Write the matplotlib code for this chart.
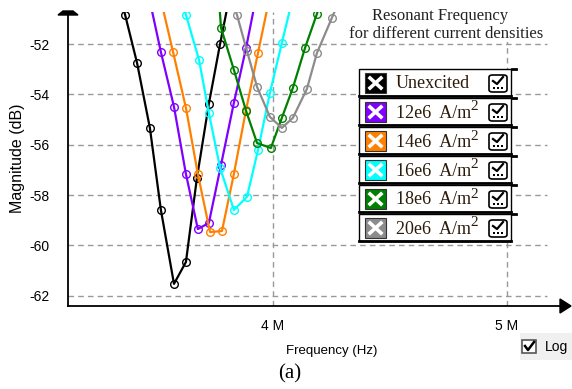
import matplotlib.pyplot as plt
from matplotlib.patches import Rectangle, FancyBboxPatch, Polygon
from matplotlib.lines import Line2D

W, H = 572, 389

# frequency (MHz) and magnitude (dB)
f_unexc = [3.316, 3.368, 3.419, 3.474, 3.521, 3.577, 3.628, 3.675, 3.726, 3.774, 3.825]
m_unexc = [-49.0, -50.83, -52.74, -55.33, -58.59, -61.53, -60.66, -57.32, -54.37, -51.99, -49.6]

f_12 = [3.470, 3.521, 3.577, 3.628, 3.679, 3.726, 3.778, 3.833, 3.885, 3.936]
m_12 = [-50.12, -52.31, -54.49, -57.16, -59.35, -59.11, -56.80, -54.33, -52.15, -49.76]

f_14 = [3.521, 3.573, 3.628, 3.679, 3.731, 3.782, 3.833, 3.885, 3.936, 3.987]
m_14 = [-50.24, -52.31, -54.53, -57.16, -59.47, -59.43, -57.16, -54.61, -52.35, -50.08]

f_16 = [3.577, 3.628, 3.684, 3.726, 3.774, 3.833, 3.889, 3.936, 3.987, 4.038, 4.090]
m_16 = [-49.04, -50.83, -52.62, -54.73, -56.92, -58.59, -58.07, -56.21, -53.94, -51.95, -49.96]

f_18 = [3.765, 3.778, 3.833, 3.885, 3.932, 3.991, 4.038, 4.085, 4.137, 4.188, 4.239]
m_18 = [-49.68, -51.35, -53.02, -54.65, -55.93, -56.13, -54.93, -53.74, -52.15, -50.79, -49.2]

f_20 = [3.795, 3.846, 3.889, 3.932, 3.987, 4.038, 4.085, 4.145, 4.188, 4.252, 4.303]
m_20 = [-49.24, -50.83, -52.27, -53.70, -54.89, -55.33, -54.93, -53.78, -52.35, -50.95, -49.84]

labels = ['Unexcited', '12e6  A/m', '14e6  A/m', '16e6  A/m', '18e6  A/m', '20e6  A/m']
colors = ['#000000', '#8000ff', '#ff8000', '#00ffff', '#008000', '#8c8c8c']
freqs = [f_unexc, f_12, f_14, f_16, f_18, f_20]
mags = [m_unexc, m_12, m_14, m_16, m_18, m_20]

y_ticks = [-52, -54, -56, -58, -60, -62]
x_ticks = [4, 5]
x_tick_labels = ['4 M', '5 M']


def P(x, y):
    # pixel position (from top-left) to figure fraction
    return (x / W, 1 - y / H)


fig = plt.figure(figsize=(W / 100, H / 100), dpi=100)
ax = fig.add_axes([68 / W, 1 - 306 / H, 500 / W, 294 / H])
x0, x1 = 3.124, 5.261
y0, y1 = -62.41, -50.72
ax.set_xlim(x0, x1)
ax.set_ylim(y0, y1)

ax.hlines(y_ticks, x0, 5.17, colors='#999999', linestyles=(0, (4, 3)), lw=1, zorder=1)
ax.vlines(x_ticks, y0, y1, colors='#999999', linestyles=(0, (4, 3)), lw=1, zorder=1)

for f, m, c in zip(freqs, mags, colors):
    ax.plot(f, m, color=c, lw=1.6, marker='o', ms=5.5, mfc='none', mec=c, mew=1.0, zorder=3)

for s in ['top', 'right']:
    ax.spines[s].set_visible(False)
for s in ['left', 'bottom']:
    ax.spines[s].set_linewidth(1.3)

ax.set_yticks(y_ticks)
ax.set_yticklabels([str(v) for v in y_ticks], fontsize=10, family='Liberation Sans')
ax.set_xticks(x_ticks)
ax.set_xticklabels(x_tick_labels, fontsize=10, family='Liberation Sans')
ax.tick_params(axis='y', length=0, pad=13)
ax.tick_params(axis='x', length=0, pad=9)

# axis arrows
fig.add_artist(Polygon([P(58, 15), P(78, 15), P(73, 11), P(63, 11)], closed=True,
                       color='black', transform=fig.transFigure))
fig.add_artist(Polygon([P(560, 299), P(560, 313), P(571, 306)], closed=True,
                       color='black', transform=fig.transFigure))

fig.text(*P(18, 158), 'Magnitude (dB)', rotation=90, ha='center', va='center',
         fontsize=11.5, family='Liberation Sans')
fig.text(*P(332, 351), 'Frequency (Hz)', ha='center', va='center',
         fontsize=9.5, family='Liberation Sans')
fig.text(*P(290, 374), '(a)', ha='center', va='center', fontsize=15,
         family='Liberation Serif')

# title block
fig.add_artist(Rectangle(P(343, 42), 210 / W, 36 / H, transform=fig.transFigure,
                         facecolor='white', edgecolor='none', zorder=2))
fig.text(*P(440, 16), 'Resonant Frequency', ha='center', va='center', fontsize=12,
         family='Liberation Serif', color='#222222', zorder=3)
fig.text(*P(446, 34), 'for different current densities', ha='center', va='center',
         fontsize=12, family='Liberation Serif', color='#222222', zorder=3)

# legend table
row_tops = [69, 98, 127, 156, 185, 214]
row_h = 27
for i, (lab, c) in enumerate(zip(labels, colors)):
    t = row_tops[i]
    fig.add_artist(Rectangle(P(359, t + row_h), 152 / W, row_h / H, transform=fig.transFigure,
                             facecolor='white', edgecolor='black', lw=1.0, zorder=4))
    fig.add_artist(Line2D([359 / W, 511 / W], [1 - (t + row_h) / H] * 2, color='black',
                          lw=2, transform=fig.transFigure, zorder=5))
    fig.add_artist(Line2D([512 / W, 516 / W], [1 - t / H] * 2, color='black',
                          lw=2, transform=fig.transFigure, zorder=5))
    # colour square with white cross
    fig.add_artist(Rectangle(P(365, t + 24), 21 / W, 20 / H, transform=fig.transFigure,
                             facecolor=c, edgecolor='#333333', lw=0.8, zorder=5))
    fig.add_artist(Line2D([370 / W, 381 / W], [1 - (t + 9) / H, 1 - (t + 19) / H],
                          color='white', lw=2.6, transform=fig.transFigure, zorder=6))
    fig.add_artist(Line2D([370 / W, 381 / W], [1 - (t + 19) / H, 1 - (t + 9) / H],
                          color='white', lw=2.6, transform=fig.transFigure, zorder=6))
    # label
    fig.text(*P(396, t + 15), lab, ha='left', va='center', fontsize=13,
             family='Liberation Serif', color='#2a1a0a', zorder=6)
    if i > 0:
        fig.text(*P(470, t + 9), '2', ha='left', va='center', fontsize=11,
                 family='Liberation Serif', color='#2a1a0a', zorder=6)
    # checkbox icon
    fig.add_artist(FancyBboxPatch(P(489, t + 23), 18 / W, 17 / H,
                                  boxstyle='round,pad=0,rounding_size=0.006',
                                  transform=fig.transFigure, facecolor='white',
                                  edgecolor='black', lw=1.2, zorder=6))
    fig.add_artist(Line2D([493 / W, 497 / W, 503 / W],
                          [1 - (t + 12) / H, 1 - (t + 15) / H, 1 - (t + 8) / H],
                          color='black', lw=1.6, transform=fig.transFigure, zorder=7))
    for dx in [494, 498, 502]:
        fig.add_artist(Rectangle(P(dx - 1, t + 20), 2 / W, 2 / H, transform=fig.transFigure,
                                 facecolor='black', edgecolor='none', zorder=7))

# Log checkbox
fig.add_artist(Rectangle(P(520, 360), 52 / W, 27 / H, transform=fig.transFigure,
                         facecolor='#f0f0f0', edgecolor='none', zorder=2))
fig.add_artist(Rectangle(P(522, 353), 14 / W, 13 / H, transform=fig.transFigure,
                         facecolor='white', edgecolor='#555555', lw=1.2, zorder=3))
fig.add_artist(Line2D([525 / W, 528 / W, 534 / W],
                      [1 - 346 / H, 1 - 350 / H, 1 - 342 / H],
                      color='black', lw=1.8, transform=fig.transFigure, zorder=4))
fig.text(*P(545, 347), 'Log', ha='left', va='center', fontsize=10,
         family='Liberation Sans', zorder=4)

fig.savefig('out.png', dpi=100, facecolor='white')
